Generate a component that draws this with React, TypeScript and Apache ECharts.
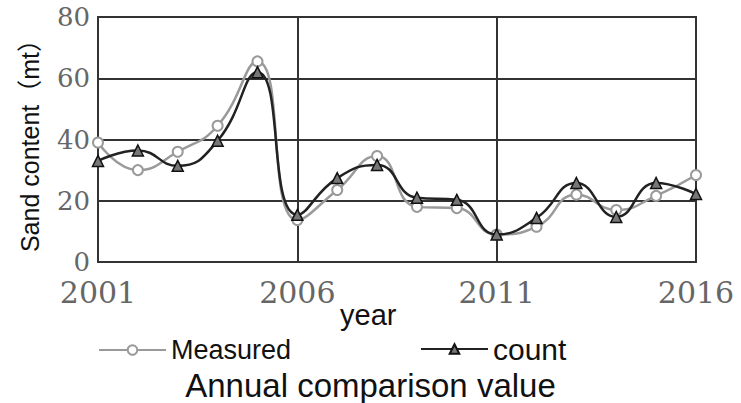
import React, { useEffect, useRef } from "react";
import * as echarts from "echarts";

const years = ["2001","2002","2003","2004","2005","2006","2007","2008","2009","2010","2011","2012","2013","2014","2015","2016"];
const measured = [39, 30, 36, 44.5, 65.5, 13.7, 23.5, 34.6, 18, 17.6, 9, 11.5, 22, 17, 21.6, 28.4];
const counted = [33, 36.4, 31.4, 39.6, 62, 15.4, 27.4, 31.7, 21, 20.3, 9, 14.4, 25.8, 14.7, 25.8, 22.2];
const yTicks = { min: 0, max: 80, interval: 20 };

const SANS = "Liberation Sans, Arial, Noto Sans CJK SC, sans-serif";
const SERIF = "DejaVu Serif, serif";

export default function App() {
  const ref = useRef<HTMLDivElement>(null);
  useEffect(() => {
    document.body.style.margin = "0";
    const chart = echarts.init(ref.current!, null, { renderer: "svg" });
    chart.setOption({
      animation: false,
      backgroundColor: "#ffffff",
      grid: {
        left: 98, right: 45, top: 17, bottom: 141,
        show: true, borderColor: "#333", borderWidth: 2,
      },
      xAxis: {
        type: "category",
        data: years,
        boundaryGap: false,
        axisLine: { show: true, lineStyle: { color: "#333", width: 2 } },
        axisTick: { show: false },
        axisLabel: {
          interval: 4, margin: 17, lineHeight: 26,
          fontFamily: SERIF, fontSize: 30, color: "#666",
        },
        splitLine: { show: true, interval: 4, lineStyle: { color: "#333", width: 2 } },
      },
      yAxis: {
        type: "value",
        min: yTicks.min, max: yTicks.max, interval: yTicks.interval,
        name: "Sand content（mt）",
        nameLocation: "middle",
        nameGap: 56,
        nameTextStyle: { fontFamily: SANS, fontSize: 25, color: "#111" },
        axisLine: { show: true, lineStyle: { color: "#333", width: 2 } },
        axisTick: { show: false },
        axisLabel: { margin: 8, lineHeight: 20, fontFamily: SERIF, fontSize: 26, color: "#666" },
        splitLine: { show: true, lineStyle: { color: "#333", width: 2 } },
      },
      legend: [
        {
          data: ["Measured"], left: 98, top: 336,
          itemWidth: 67, itemHeight: 12, itemGap: 12, padding: 0,
          textStyle: { fontFamily: SANS, fontSize: 27, lineHeight: 28, color: "#111" },
        },
        {
          data: ["count"], left: 420, top: 334,
          itemWidth: 67, itemHeight: 12, itemGap: 10, padding: 0,
          textStyle: { fontFamily: SANS, fontSize: 30, lineHeight: 30, color: "#111" },
        },
      ],
      graphic: [
        {
          type: "text", left: 340, top: 300,
          style: { text: "year", fontFamily: SANS, fontSize: 29, fill: "#111" },
        },
        {
          type: "text", left: "center", top: 369,
          style: { text: "Annual comparison value", fontFamily: SANS, fontSize: 33, lineHeight: 33, fill: "#111" },
        },
      ],
      series: [
        {
          name: "Measured",
          type: "line",
          data: measured,
          smooth: 0.5,
          symbol: "emptyCircle",
          symbolSize: 10,
          lineStyle: { color: "#9a9a9a", width: 2.5 },
          itemStyle: { color: "#9a9a9a", borderColor: "#9a9a9a", borderWidth: 2 },
          z: 3,
        },
        {
          name: "count",
          type: "line",
          data: counted,
          smooth: 0.5,
          symbol: "triangle",
          symbolSize: 11,
          lineStyle: { color: "#222", width: 2.5 },
          itemStyle: { color: "#777", borderColor: "#111", borderWidth: 1.5 },
          z: 4,
        },
      ],
    });
    return () => chart.dispose();
  }, []);
  return <div ref={ref} style={{ width: 741, height: 403 }} />;
}
